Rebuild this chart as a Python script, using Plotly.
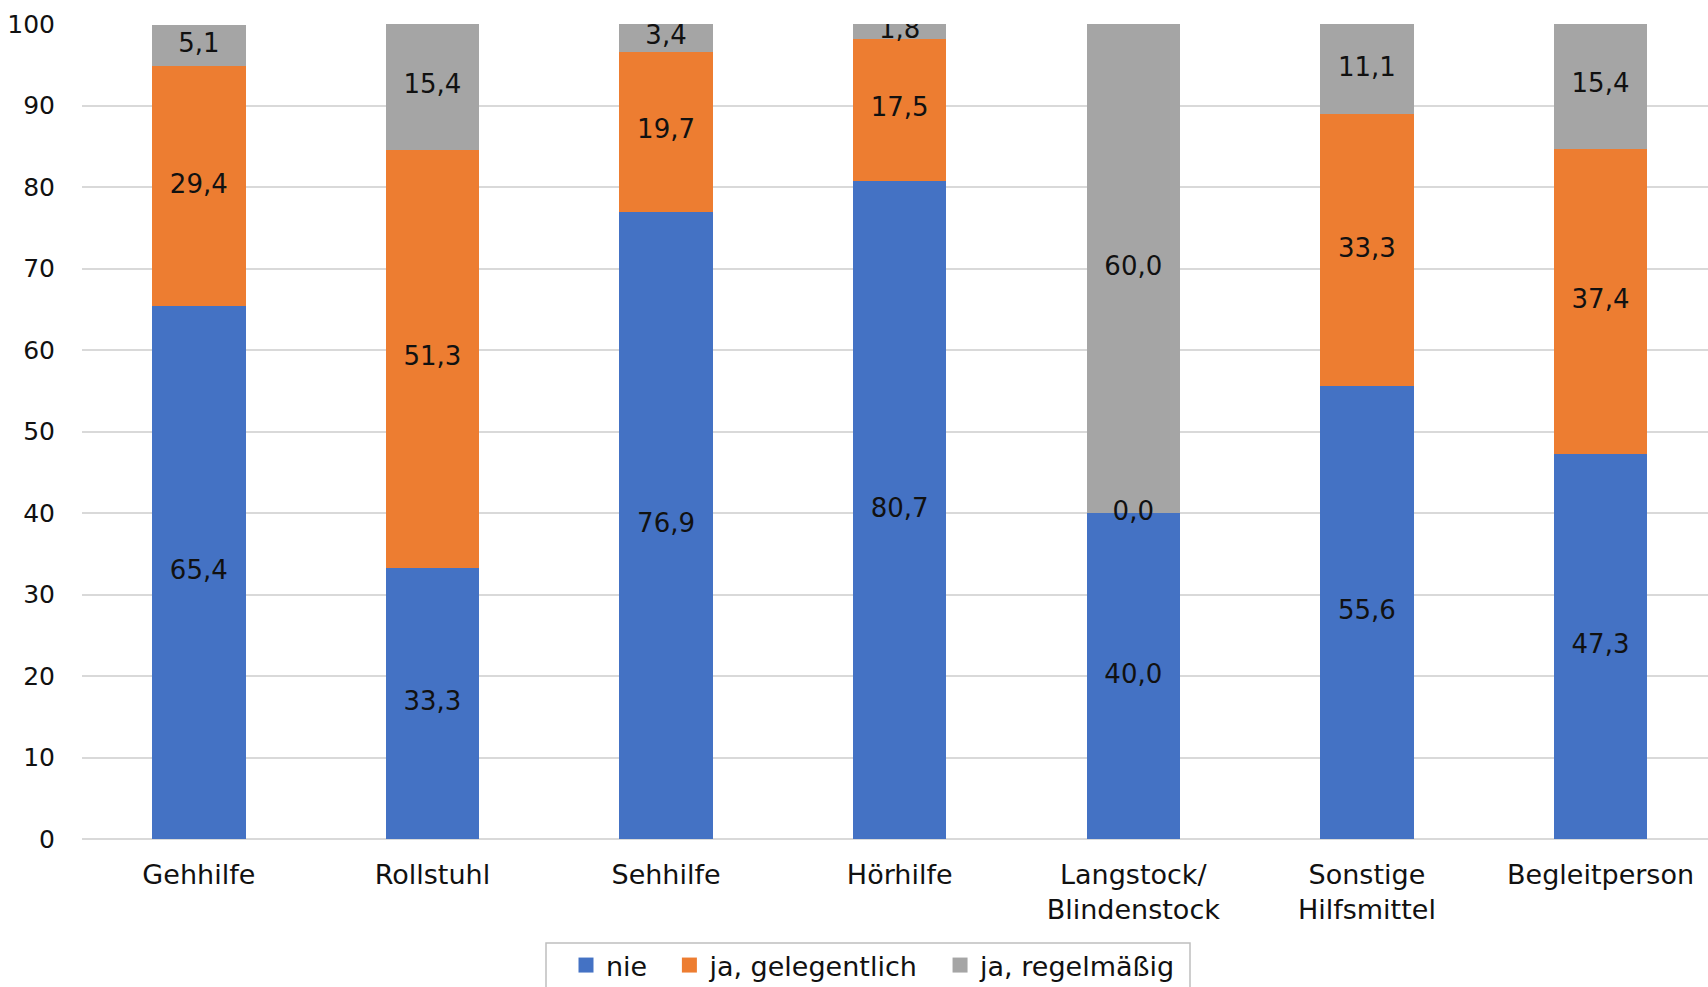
import plotly.graph_objects as go

# Nutzung von Hilfsmitteln (Anteile in %)
categories = ["Gehhilfe", "Rollstuhl", "Sehhilfe", "Hörhilfe",
              "Langstock/<br>Blindenstock", "Sonstige<br>Hilfsmittel", "Begleitperson"]
nie = [65.4, 33.3, 76.9, 80.7, 40.0, 55.6, 47.3]
gelegentlich = [29.4, 51.3, 19.7, 17.5, 0.0, 33.3, 37.4]
regelmaessig = [5.1, 15.4, 3.4, 1.8, 60.0, 11.1, 15.4]

series = [
    ("nie", nie, "#4472C4"),
    ("ja, gelegentlich", gelegentlich, "#ED7D31"),
    ("ja, regelmäßig", regelmaessig, "#A5A5A5"),
]

FONT = "DejaVu Sans"
FS = 27
W, H = 1708, 987
ML, MT, MB = 82, 24, 148
PW, PH = W - ML, H - MT - MB
NBSP = "\u00a0"


def fmt(v):
    return f"{v:.1f}".replace(".", ",")


def px_x(p):
    return (p - ML) / PW


def px_y(q):
    return (H - MB - q) / PH


fig = go.Figure()
base = [0.0] * len(categories)
label_x, label_y, label_t = [], [], []
for k, (name, vals, color) in enumerate(series):
    fig.add_trace(go.Bar(
        name=name, x=categories, y=vals, marker_color=color,
        marker_line_width=0, hoverinfo="skip", showlegend=False,
    ))
    # Legendeneintrag mit quadratischem Symbol
    pad = NBSP * 2 if k < len(series) - 1 else ""
    fig.add_trace(go.Scatter(
        name=name + pad, x=[None], y=[None], mode="markers",
        marker=dict(symbol="square", size=15, color=color),
        hoverinfo="skip",
    ))
    for i, v in enumerate(vals):
        label_x.append(categories[i])
        label_y.append(base[i] + v / 2)
        label_t.append(fmt(v))
        base[i] += v

# Wertebeschriftungen in der Mitte jedes Segments
fig.add_trace(go.Scatter(
    x=label_x, y=label_y, text=label_t, mode="text",
    textfont=dict(family=FONT, size=26, color="#111111"),
    showlegend=False, hoverinfo="skip",
))

# Rahmen um die Legende
fig.add_shape(
    type="rect", xref="paper", yref="paper",
    x0=px_x(546), x1=px_x(1190), y0=px_y(1000), y1=px_y(943),
    line=dict(color="#BFBFBF", width=1.5), fillcolor="rgba(0,0,0,0)",
)

fig.update_layout(
    width=W, height=H,
    barmode="stack", bargap=0.6,
    plot_bgcolor="white", paper_bgcolor="white",
    margin=dict(l=ML, r=0, t=MT, b=MB, autoexpand=False),
    font=dict(family=FONT, size=FS, color="#111111"),
    legend=dict(
        orientation="h", traceorder="normal",
        x=px_x(566), xanchor="left", y=px_y(941), yanchor="top",
        borderwidth=0, bgcolor="rgba(0,0,0,0)",
        font=dict(family=FONT, size=FS, color="#111111"),
        itemwidth=30,
    ),
    xaxis=dict(
        range=[-0.5, 6.46], showline=False, ticks="", ticklabelstandoff=17,
        tickfont=dict(size=FS),
    ),
    yaxis=dict(
        range=[0, 100], dtick=10, showgrid=True, gridcolor="#D9D9D9", gridwidth=1.5,
        zeroline=True, zerolinecolor="#D9D9D9", zerolinewidth=1.5,
        ticks="", ticklabelstandoff=26, tickfont=dict(size=25),
    ),
)

fig.write_html("out.html")
